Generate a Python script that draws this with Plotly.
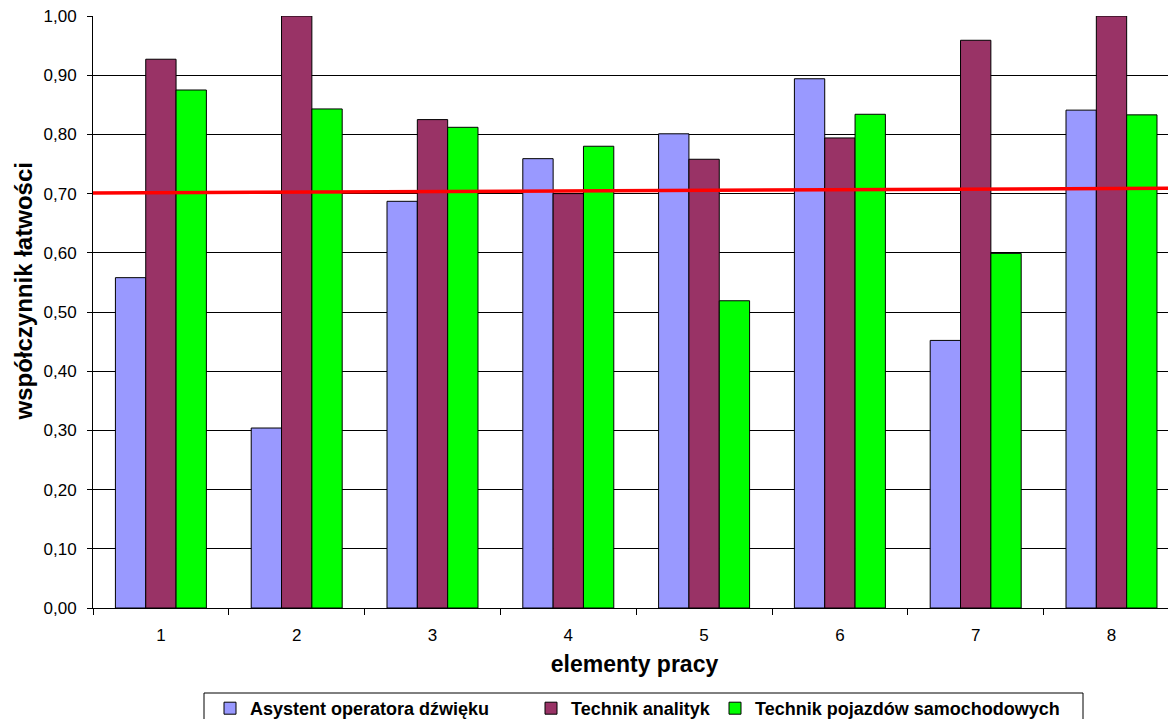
import plotly.graph_objects as go

categories = [1, 2, 3, 4, 5, 6, 7, 8]
category_labels = ["1", "2", "3", "4", "5", "6", "7", "8"]
series_names = ["Asystent operatora dźwięku", "Technik analityk", "Technik pojazdów samochodowych"]
asystent = [0.558, 0.304, 0.687, 0.759, 0.801, 0.894, 0.452, 0.841]
analityk = [0.927, 1.000, 0.825, 0.700, 0.758, 0.794, 0.959, 1.000]
pojazdow = [0.875, 0.843, 0.812, 0.780, 0.519, 0.834, 0.599, 0.833]
trend_x = [0.5, 8.5]
trend_y = [0.701, 0.709]
y_ticks = [0.0, 0.1, 0.2, 0.3, 0.4, 0.5, 0.6, 0.7, 0.8, 0.9, 1.0]
boundaries = [0.5, 1.5, 2.5, 3.5, 4.5, 5.5, 6.5, 7.5]

colors = ["#9999FF", "#993366", "#00FF00"]
FONT = "Liberation Sans, Arial, sans-serif"

# The page body has an 8px margin, so the figure is drawn 8px lower and to the right.
OFF = 8
W, H = 1176 - OFF, 719 - OFF
ML, MT = 93 - OFF, 16 - OFF
PLOT_BOTTOM = 608 - OFF
MB = H - PLOT_BOTTOM
PW = W - ML
PH = PLOT_BOTTOM - MT


def px_x(p):
    # page pixel -> paper x
    return (p - OFF - ML) / PW


def px_y(p):
    # page pixel -> paper y
    return (PLOT_BOTTOM - (p - OFF)) / PH


legend_names = ["legend", "legend2", "legend3"]
legend_left_px = [210, 531, 715]
legend_top_px = 690

fig = go.Figure()
for name, vals, col, lg in zip(series_names, [asystent, analityk, pojazdow], colors, legend_names):
    fig.add_trace(go.Bar(
        x=categories, y=vals, name=name, legend=lg,
        marker=dict(color=col, line=dict(color="#000000", width=1)),
    ))

fig.add_trace(go.Scatter(
    x=trend_x, y=trend_y, mode="lines", showlegend=False,
    line=dict(color="#FF0000", width=3.5), hoverinfo="skip",
))

legend_font = dict(family=FONT, size=18, color="#000000", weight="bold")
legend_layout = {}
for lg, lx in zip(legend_names, legend_left_px):
    legend_layout[lg] = dict(
        orientation="h", x=px_x(lx), xanchor="left", y=px_y(legend_top_px), yanchor="top",
        borderwidth=0, bgcolor="rgba(0,0,0,0)", font=legend_font,
    )

fig.update_layout(
    width=W, height=H,
    margin=dict(l=ML, r=0, t=MT, b=MB, autoexpand=False),
    paper_bgcolor="white", plot_bgcolor="white",
    barmode="group", bargap=0.33, bargroupgap=0,
    separators=", ",
    font=dict(family=FONT, size=17, color="#000000"),
    showlegend=True,
    shapes=[dict(
        type="rect", xref="paper", yref="paper",
        x0=px_x(204), x1=px_x(1083), y0=px_y(693), y1=px_y(730),
        line=dict(color="#000000", width=1), fillcolor="rgba(0,0,0,0)", layer="below",
    )],
    annotations=[dict(
        text="współczynnik łatwości", xref="paper", yref="paper",
        x=px_x(8), y=px_y(292), xanchor="left", yanchor="middle",
        textangle=-90, showarrow=False, borderpad=0,
        font=dict(family=FONT, size=24, weight="bold", color="#000000"),
    )],
    **legend_layout,
)

fig.update_xaxes(
    range=[0.5, 8.475], automargin=False,
    tickmode="array", tickvals=categories, ticktext=category_labels,
    ticks="", ticklabelstandoff=12,
    minor=dict(tickmode="array", tickvals=boundaries, ticks="outside", ticklen=6,
               tickcolor="#000000", tickwidth=1, showgrid=False),
    showline=True, linecolor="#000000", linewidth=1,
    showgrid=False, zeroline=False,
    tickfont=dict(family=FONT, size=17),
    title=dict(text="elementy pracy", font=dict(family=FONT, size=23, weight="bold"), standoff=11),
)

fig.update_yaxes(
    range=[0, 1.0], automargin=False,
    tickmode="array", tickvals=y_ticks, tickformat=".2f",
    ticks="outside", ticklen=5, tickcolor="#000000", tickwidth=1,
    ticklabelstandoff=7, ticklabeloverflow="allow",
    showline=True, linecolor="#000000", linewidth=1,
    showgrid=True, gridcolor="#000000", gridwidth=1,
    zeroline=False,
    tickfont=dict(family=FONT, size=17),
)

fig.write_html("out.html")
